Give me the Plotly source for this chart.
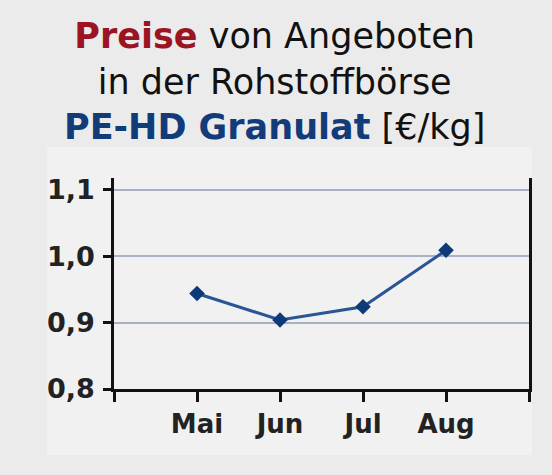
import plotly.graph_objects as go

months = ["Mai", "Jun", "Jul", "Aug"]
prices = [0.944, 0.904, 0.924, 1.009]
y_ticks = [0.8, 0.9, 1.0, 1.1]

x_pos = list(range(len(months)))

fig = go.Figure()
fig.add_trace(go.Scatter(
    x=x_pos, y=prices, mode="lines+markers",
    line=dict(color="#2a5595", width=3),
    marker=dict(symbol="diamond", size=12, color="#0f3a78"),
    hoverinfo="skip",
))

fig.update_layout(
    width=552, height=475,
    margin=dict(l=114, r=23, t=178, b=86, autoexpand=False),
    paper_bgcolor="#ebebeb",
    plot_bgcolor="#f1f1f1",
    showlegend=False,
    separators=",.",
    font=dict(family="DejaVu Sans", color="#1a1a1a"),
    xaxis=dict(
        range=[-1, 4], automargin=False,
        tickmode="array",
        tickvals=[-1] + x_pos + [len(months)],
        ticktext=[""] + months + [""],
        showgrid=False, zeroline=False,
        showline=True, linecolor="#111", linewidth=2.5,
        ticks="outside", ticklen=10, tickwidth=2.5, tickcolor="#111",
        tickfont=dict(size=26, family="DejaVu Sans", weight="bold", color="#222"),
    ),
    yaxis=dict(
        range=[0.8, 1.118], automargin=False,
        tickmode="array", tickvals=y_ticks, tickformat=".1f",
        showgrid=True, gridcolor="#a9b0c6", gridwidth=1.5,
        zeroline=False,
        showline=True, linecolor="#111", linewidth=2.5, mirror=True,
        ticks="outside", ticklen=8, tickwidth=2.5, tickcolor="#111",
        ticklabelstandoff=3,
        tickfont=dict(size=27, family="DejaVu Sans", weight="bold", color="#222"),
    ),
    shapes=[dict(type="rect", xref="paper", yref="paper", layer="below",
                 x0=-0.161, x1=1.007, y0=-0.313, y1=1.147,
                 fillcolor="#f1f1f1", line=dict(width=0))],
)

fig.add_annotation(
    xref="paper", yref="paper", x=0.386, y=1.455, xanchor="center", yanchor="middle",
    showarrow=False, align="center",
    text=("<span style='color:#9c1423'><b>Preise</b></span> von Angeboten<br>"
          "in der Rohstoffbörse<br>"
          "<span style='color:#123b7a'><b>PE-HD Granulat</b></span> [€/kg]"),
    font=dict(size=35, family="DejaVu Sans", color="#111"),
)

fig.write_html("out.html",
               config={"displayModeBar": False},
               post_script="document.body.style.margin='0';document.body.style.background='#ebebeb';")
